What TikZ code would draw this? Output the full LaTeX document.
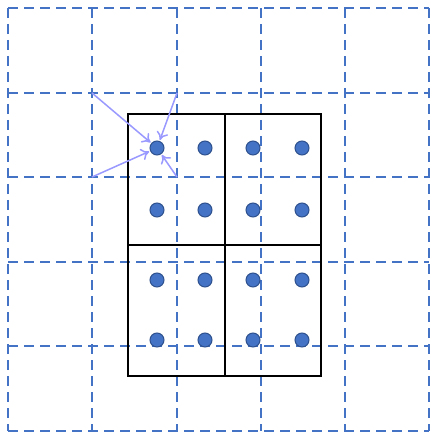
\documentclass[tikz,border=0pt]{standalone}
\usetikzlibrary{arrows.meta}
\definecolor{gridblue}{HTML}{4472C4}
\definecolor{dotedge}{HTML}{2F528F}
\definecolor{arrowpurple}{HTML}{9999FF}
\begin{document}
\begin{tikzpicture}[x=1pt,y=-1pt,
  gridline/.style={draw=gridblue,line width=2pt,dash pattern=on 10pt off 6pt},
  boxline/.style={draw=black,line width=2.2pt},
  pt/.style={circle,fill=gridblue,draw=dotedge,line width=1pt,minimum size=14pt,inner sep=0pt},
  ray/.style={draw=arrowpurple,line width=1.5pt,-{To[length=8pt,width=12pt]},shorten >=1pt}]
\useasboundingbox (0,0) rectangle (430,435);
% dashed grid
\foreach \x in {8,92,177,261,345,429}
  \draw[gridline] (\x,8) -- (\x,431);
\foreach \y in {8,93,177,262,346,431}
  \draw[gridline] (8,\y) -- (429,\y);
% solid box
\draw[boxline] (128,114) rectangle (321,376);
\draw[boxline] (225,114) -- (225,376);
\draw[boxline] (128,245) -- (321,245);
% dots
\foreach \x [count=\i] in {157,205,253,302}
  \foreach \y [count=\j] in {148,210,280,340}
    \node[pt] (d\i\j) at (\x,\y) {};
% arrows
\coordinate (c1) at (92,93);
\coordinate (c2) at (177,93);
\coordinate (c3) at (92,177);
\coordinate (c4) at (177,177);
\draw[ray] (c1) -- (d11);
\draw[ray] (c2) -- (d11);
\draw[ray] (c3) -- (d11);
\draw[ray] (c4) -- (d11);
\end{tikzpicture}
\end{document}
